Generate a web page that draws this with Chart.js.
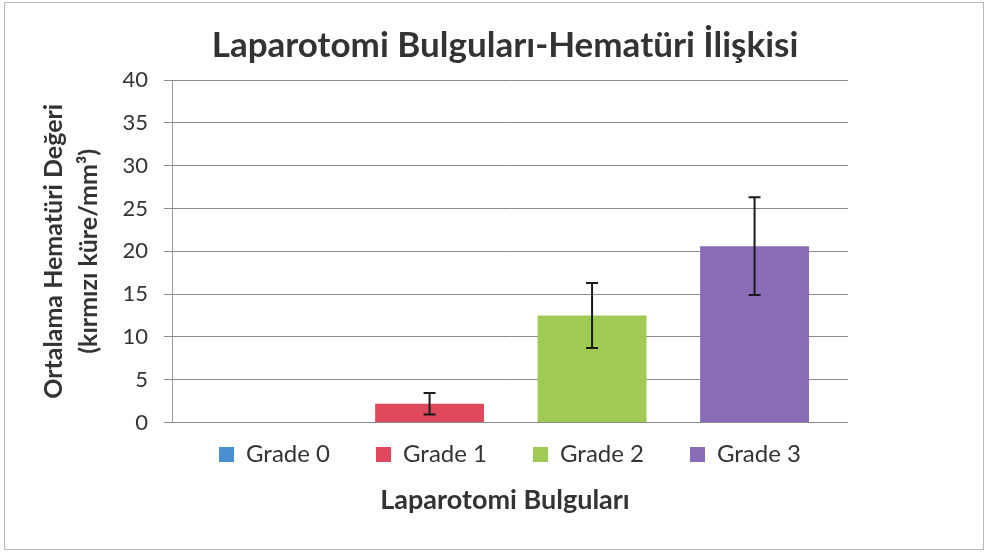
<!DOCTYPE html>
<html>
<head>
<meta charset="utf-8">
<script src="https://cdn.jsdelivr.net/npm/chart.js@4"></script>
<style>
  html, body { margin: 0; padding: 0; background: #fff; }
  #wrap { position: relative; width: 988px; height: 559px; }
  #frame { position: absolute; left: 4px; top: 2px; width: 978px; height: 546px; border: 1px solid #b8b8b8; pointer-events: none; }
  canvas { position: absolute; left: 0; top: 0; }
</style>
</head>
<body>
<div id="wrap">
  <canvas id="myChart" width="988" height="559"></canvas>
  <div id="frame"></div>
</div>
<script>
(() => {
    'use strict'

    // Data
    const categories = ['Grade 0', 'Grade 1', 'Grade 2', 'Grade 3']
    const means = [0, 2.2, 12.5, 20.6]
    const errors = [0, 1.25, 3.8, 5.7]

    const colors = ['#4a8fd0', '#e0485d', '#9fcb55', '#8a6bb6']
    const font = 'Lato, "Open Sans", sans-serif'

    // one dataset per grade so the legend shows each colour
    const datasets = categories.map((name, i) => ({
        label: name,
        data: categories.map((_, j) => ({ x: j, y: j === i ? means[j] : null })),
        backgroundColor: colors[i],
        borderWidth: 0,
        barPercentage: 0.67,
        categoryPercentage: 1,
        skipNull: true
    }))

    const errorBars = {
        id: 'errorBars',
        afterDatasetsDraw(chart) {
            const y = chart.scales.y
            const c = chart.ctx
            c.save()
            c.strokeStyle = '#1a1a1a'
            c.lineWidth = 2
            categories.forEach((_, i) => {
                if (!errors[i]) return
                const bar = chart.getDatasetMeta(i).data[i]
                const top = y.getPixelForValue(means[i] + errors[i])
                const bot = y.getPixelForValue(means[i] - errors[i])
                c.beginPath()
                c.moveTo(bar.x, top)
                c.lineTo(bar.x, bot)
                c.moveTo(bar.x - 6, top)
                c.lineTo(bar.x + 6, top)
                c.moveTo(bar.x - 6, bot)
                c.lineTo(bar.x + 6, bot)
                c.stroke()
            })
            c.restore()
        }
    }

    const ctx = document.getElementById('myChart')
    // eslint-disable-next-line no-unused-vars
    const myChart = new Chart(ctx, {
        type: 'bar',
        data: {
            datasets: datasets
        },
        plugins: [errorBars],
        options: {
            responsive: false,
            animation: false,
            layout: {
                padding: { left: 32, right: 10, top: 20, bottom: 43 }
            },
            scales: {
                x: {
                    type: 'linear',
                    min: -0.585,
                    max: 3.575,
                    offset: false,
                    // no hidden ticks, so bar width comes from the data spacing only
                    afterBuildTicks(axis) { axis.ticks = [] },
                    afterFit(axis) { axis.height = 4 },
                    grid: { display: false },
                    border: { display: false },
                    ticks: { display: false }
                },
                y: {
                    min: 0,
                    max: 40,
                    afterFit(axis) { axis.width = 140 },
                    ticks: {
                        stepSize: 5,
                        color: '#333',
                        padding: 16,
                        font: { family: font, size: 22 }
                    },
                    grid: { color: '#8c8c8c', lineWidth: 1, tickLength: 8 },
                    border: { display: true, color: '#9a9a9a' },
                    title: {
                        display: true,
                        text: ['Ortalama Hematüri Değeri', '(kırmızı küre/mm³)'],
                        color: '#333',
                        font: { family: font, size: 25, weight: 'bold', lineHeight: 1.4 },
                        padding: { top: 4, bottom: 0 }
                    }
                },
                // empty axis on the right, only keeps the plot narrower than the titles
                y2: {
                    position: 'right',
                    afterFit(axis) { axis.width = 130 },
                    grid: { display: false },
                    border: { display: false },
                    ticks: { display: false }
                }
            },
            plugins: {
                title: {
                    display: true,
                    text: 'Laparotomi Bulguları-Hematüri İlişkisi',
                    color: '#333',
                    font: { family: font, size: 35, weight: 'bold' },
                    padding: { top: 5, bottom: 13 }
                },
                subtitle: {
                    display: true,
                    position: 'bottom',
                    text: 'Laparotomi Bulguları',
                    color: '#333',
                    font: { family: font, size: 27, weight: 'bold' },
                    padding: { top: 7, bottom: 0 }
                },
                legend: {
                    position: 'bottom',
                    fullSize: false,
                    labels: {
                        color: '#333',
                        boxWidth: 15,
                        boxHeight: 15,
                        padding: 16,
                        font: { family: font, size: 24 },
                        // wider gaps between items without a tall legend box
                        generateLabels(chart) {
                            const items = Chart.defaults.plugins.legend.labels.generateLabels(chart)
                            items.forEach((item, i) => {
                                if (i < items.length - 1) item.text += '\u2003\u2002'
                            })
                            return items
                        }
                    }
                },
                tooltip: { enabled: false }
            }
        }
    })
})()
</script>
</body>
</html>
